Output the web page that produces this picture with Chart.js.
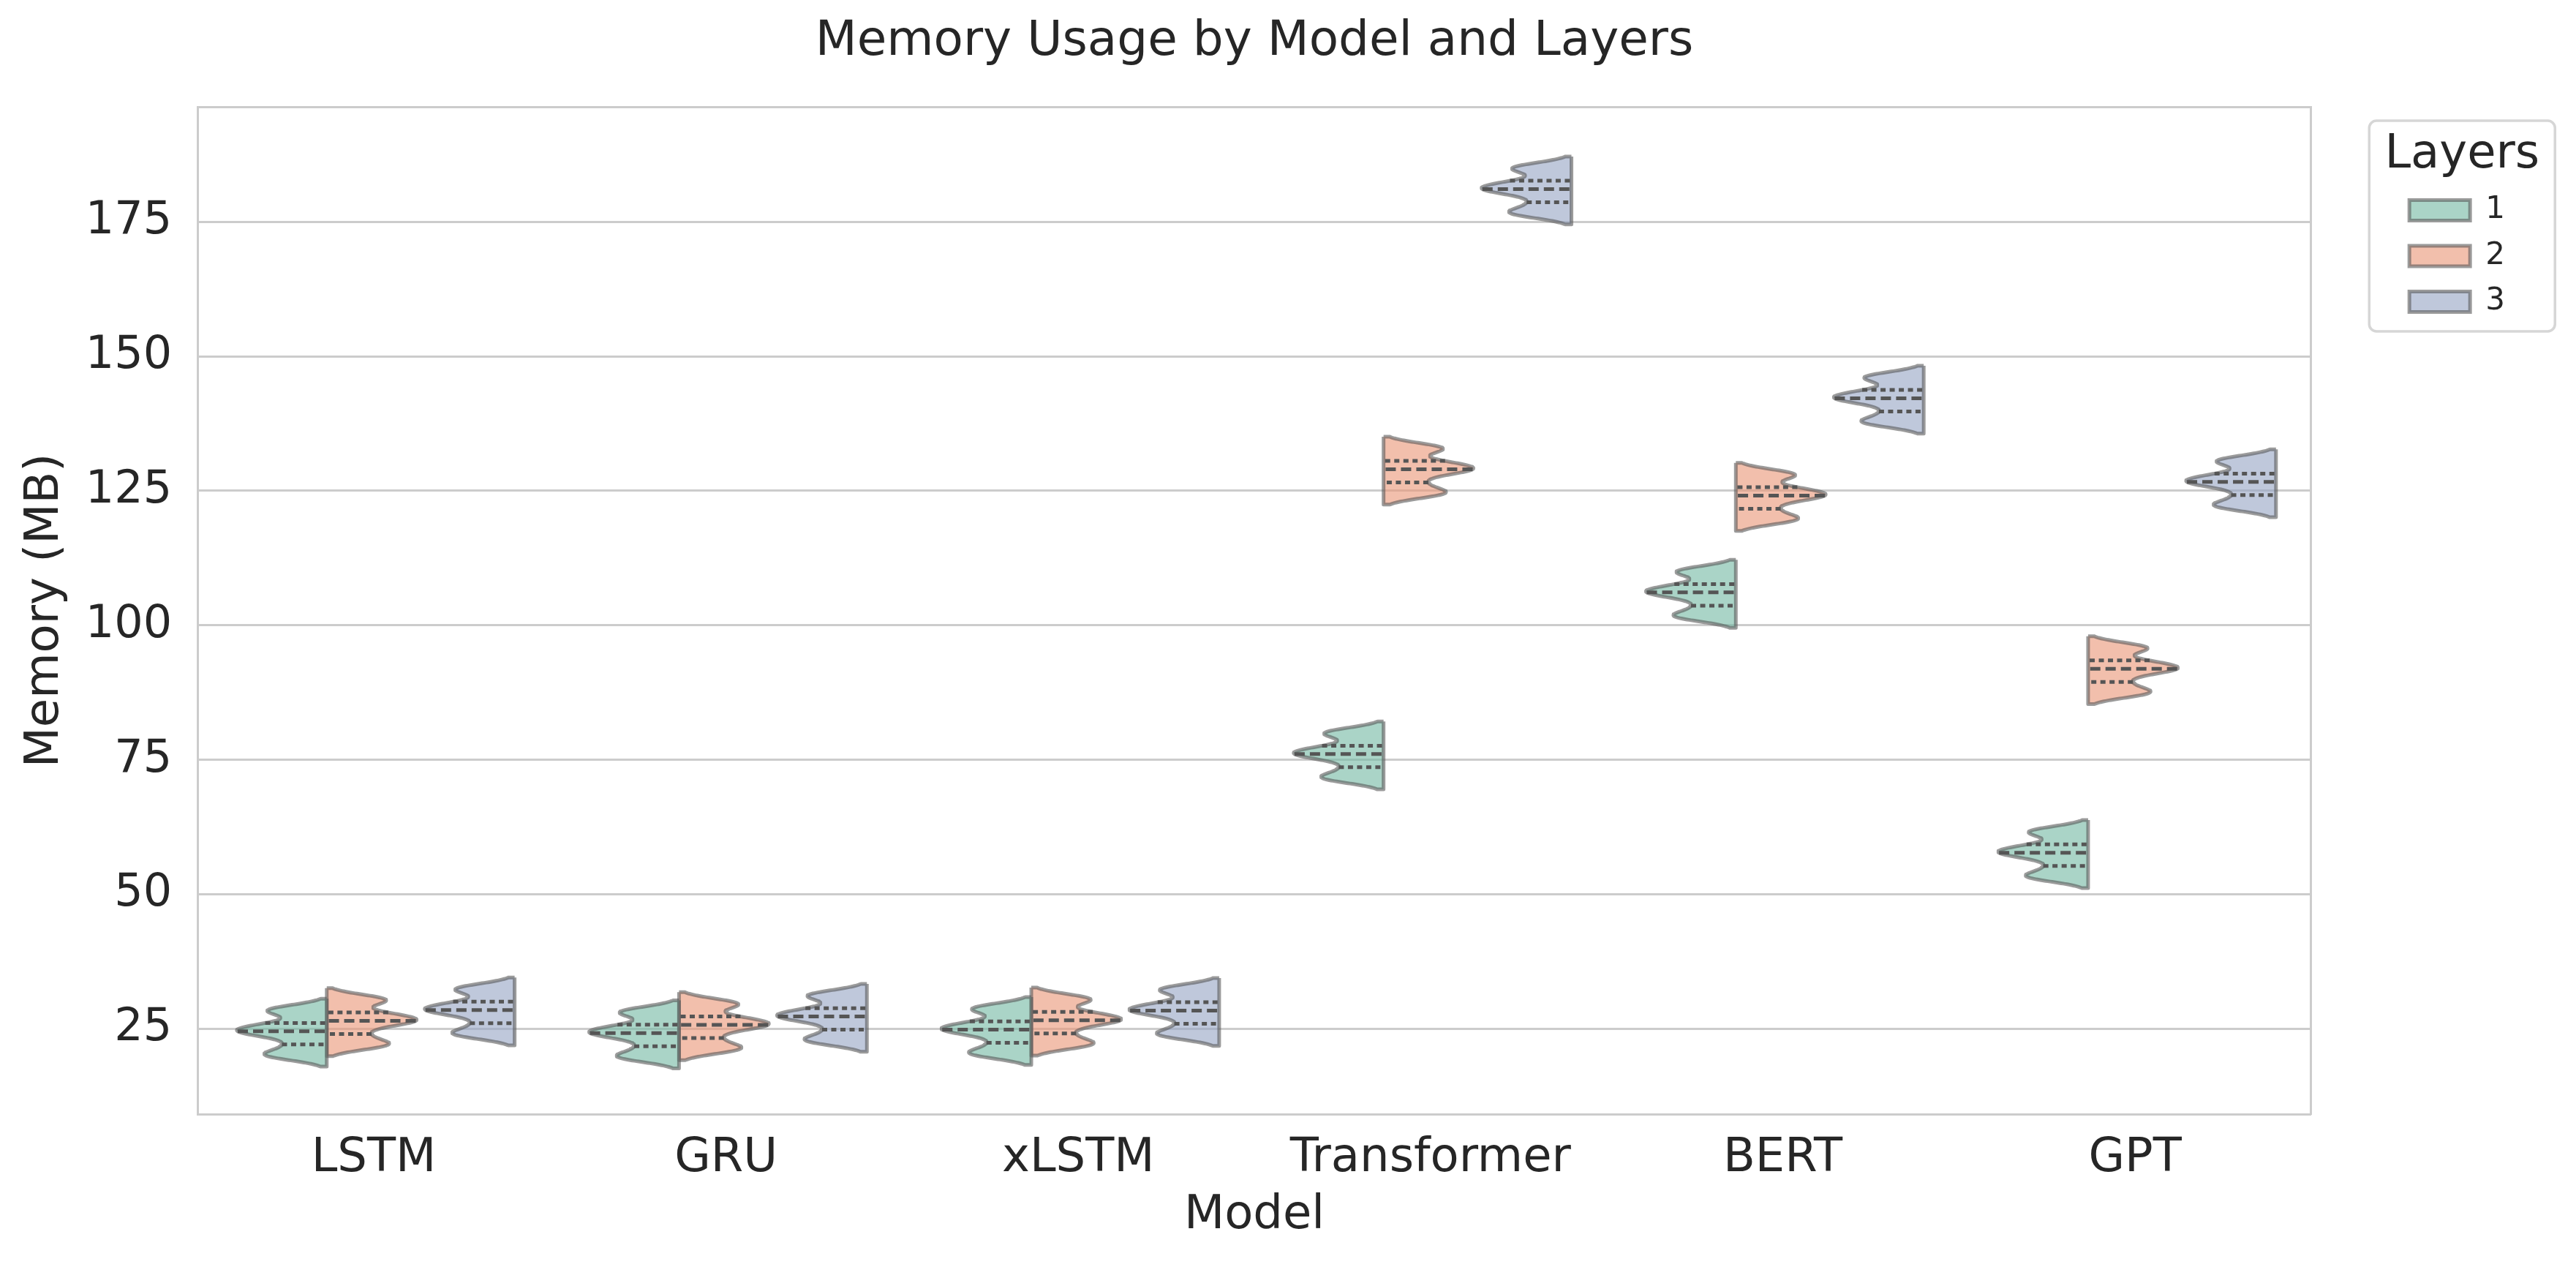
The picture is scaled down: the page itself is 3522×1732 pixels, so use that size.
<!DOCTYPE html>
<html>
<head>
<meta charset="utf-8">
<script src="https://cdn.jsdelivr.net/npm/chart.js@4.4.1/dist/chart.umd.min.js"></script>
<style>
  html, body { margin: 0; padding: 0; background: #ffffff; overflow: hidden; }
  #wrap { width: 3522px; height: 1732px; position: relative; background: #ffffff; }
</style>
</head>
<body>
<div id="wrap"><canvas id="chart"></canvas></div>
<script>
// ---------------- data ----------------
const models = ['LSTM', 'GRU', 'xLSTM', 'Transformer', 'BERT', 'GPT'];
const layers = ['1', '2', '3'];

// memory samples (MB), one row per model, for each number of layers
const layer1Samples = [
  [19.95, 20.20, 22.05, 23.90, 24.50, 25.00, 26.05, 28.25, 28.55],
  [19.63, 19.88, 21.73, 23.58, 24.18, 24.68, 25.73, 27.93, 28.23],
  [20.25, 20.50, 22.35, 24.20, 24.80, 25.30, 26.35, 28.55, 28.85],
  [71.50, 71.75, 73.60, 75.45, 76.05, 76.55, 77.60, 79.80, 80.10],
  [101.55, 101.80, 103.65, 105.50, 106.10, 106.60, 107.65, 109.85, 110.15],
  [53.15, 53.40, 55.25, 57.10, 57.70, 58.20, 59.25, 61.45, 61.75]
];
const layer2Samples = [
  [21.90, 22.15, 24.00, 25.85, 26.45, 26.95, 28.00, 30.20, 30.50],
  [21.15, 21.40, 23.25, 25.10, 25.70, 26.20, 27.25, 29.45, 29.75],
  [22.00, 22.25, 24.10, 25.95, 26.55, 27.05, 28.10, 30.30, 30.60],
  [124.45, 124.70, 126.55, 128.40, 129.00, 129.50, 130.55, 132.75, 133.05],
  [119.57, 119.82, 121.67, 123.52, 124.12, 124.62, 125.67, 127.87, 128.17],
  [87.35, 87.60, 89.45, 91.30, 91.90, 92.40, 93.45, 95.65, 95.95]
];
const layer3Samples = [
  [23.90, 24.15, 26.00, 27.85, 28.45, 28.95, 30.00, 32.20, 32.50],
  [22.70, 22.95, 24.80, 26.65, 27.25, 27.75, 28.80, 31.00, 31.30],
  [23.80, 24.05, 25.90, 27.75, 28.35, 28.85, 29.90, 32.10, 32.40],
  [176.55, 176.80, 178.65, 180.50, 181.10, 181.60, 182.65, 184.85, 185.15],
  [137.65, 137.90, 139.75, 141.60, 142.20, 142.70, 143.75, 145.95, 146.25],
  [122.10, 122.35, 124.20, 126.05, 126.65, 127.15, 128.20, 130.40, 130.70]
];
const yTicks = [25, 50, 75, 100, 125, 150, 175];
const samplesByLayer = [layer1Samples, layer2Samples, layer3Samples];
const legendTitle = 'Layers';

// ---------------- style ----------------
const FONT = "'DejaVu Sans', 'Liberation Sans', sans-serif";
const TEXT = '#262626';
const GRID = '#cccccc';
const fills = ['rgba(113,183,161,0.6)', 'rgba(233,149,117,0.6)', 'rgba(149,163,195,0.6)'];
const edge = 'rgba(89,89,89,0.6)';
const innerColor = '#555555';

// violin estimation settings (seaborn-like)
const BW_ADJUST = 0.5, CUT = 2, GRID_N = 200;
const DODGE_W = 0.8 / layers.length;
const HALF_MAX = 0.255;

Chart.defaults.font.family = FONT;
Chart.defaults.color = TEXT;

function kde(samples) {
  const n = samples.length;
  const mean = samples.reduce((a, b) => a + b, 0) / n;
  const sd = Math.sqrt(samples.reduce((a, b) => a + (b - mean) * (b - mean), 0) / (n - 1));
  const h = BW_ADJUST * Math.pow(n, -0.2) * sd;
  const dens = (y) => {
    let s = 0;
    for (const v of samples) { const z = (y - v) / h; s += Math.exp(-0.5 * z * z); }
    return s / (n * h * Math.sqrt(2 * Math.PI));
  };
  const lo = Math.min(...samples) - CUT * h;
  const hi = Math.max(...samples) + CUT * h;
  const ys = [], ds = [];
  for (let t = 0; t < GRID_N; t++) {
    const y = hi - (hi - lo) * t / (GRID_N - 1);
    ys.push(y); ds.push(dens(y));
  }
  return { ys, ds, dens, lo, hi };
}
function quantile(sorted, p) {
  const idx = (sorted.length - 1) * p;
  const a = Math.floor(idx), b = Math.ceil(idx);
  return sorted[a] + (sorted[b] - sorted[a]) * (idx - a);
}

const fits = [];
samplesByLayer.forEach((rows, j) => rows.forEach((s, i) => fits.push({ i, j, s, k: kde(s) })));
const globalMax = Math.max(...fits.map(f => Math.max(...f.k.ds)));
const wScale = HALF_MAX / globalMax;

const violinSets = [], innerSets = [];
fits.forEach(({ i, j, s, k }) => {
  const pos = i + (j - (layers.length - 1) / 2) * DODGE_W;
  const side = j % 2 === 0 ? -1 : 1;
  const flat = pos - side * DODGE_W / 2;
  const pts = [{ x: flat, y: k.hi }];
  k.ys.forEach((y, t) => pts.push({ x: flat + side * k.ds[t] * wScale, y }));
  pts.push({ x: flat, y: k.lo });
  pts.push({ x: flat, y: k.hi });
  violinSets.push({
    label: models[i] + ' / ' + layers[j],
    data: pts,
    showLine: true,
    fill: 'shape',
    backgroundColor: fills[j],
    borderColor: edge,
    borderWidth: 5,
    borderJoinStyle: 'round',
    pointRadius: 0,
    tension: 0,
    order: 2
  });
  const sorted = [...s].sort((a, b) => a - b);
  [0.25, 0.5, 0.75].forEach(p => {
    const q = quantile(sorted, p);
    innerSets.push({
      label: 'q',
      data: [{ x: flat + side * k.dens(q) * wScale, y: q }, { x: flat, y: q }],
      showLine: true,
      fill: false,
      borderColor: innerColor,
      borderWidth: 5,
      borderDash: p === 0.5 ? [14, 7] : [7, 5.5],
      borderCapStyle: 'butt',
      pointRadius: 0,
      order: 1
    });
  });
});

// frame and heading of the legend, placed from the legend's own box
const legendFrame = {
  id: 'legendFrame',
  beforeDraw(chart) {
    const lg = chart.legend;
    if (!lg) return;
    const c = chart.ctx;
    c.save();
    c.beginPath();
    if (c.roundRect) c.roundRect(lg.left - 34.4, lg.top + 19, 254, 288, 10);
    else c.rect(lg.left - 34.4, lg.top + 19, 254, 288);
    c.fillStyle = '#ffffff';
    c.fill();
    c.lineWidth = 3.5;
    c.strokeStyle = '#d6d6d6';
    c.stroke();
    c.restore();
  },
  afterDraw(chart) {
    const lg = chart.legend;
    if (!lg) return;
    const c = chart.ctx;
    c.save();
    c.font = "normal 64px " + FONT;
    c.fillStyle = TEXT;
    c.textAlign = 'center';
    c.textBaseline = 'middle';
    c.fillText(legendTitle, lg.left - 34.4 + 127, lg.top + 66);
    c.restore();
  }
};

new Chart(document.getElementById('chart'), {
  type: 'scatter',
  data: { datasets: [...innerSets, ...violinSets] },
  options: {
    responsive: true,
    maintainAspectRatio: false,
    animation: false,
    events: [],
    layout: { padding: { left: 24, right: 87.1, top: 0, bottom: 30.8 } },
    elements: { point: { radius: 0 } },
    plugins: {
      tooltip: { enabled: false },
      title: {
        display: true,
        text: 'Memory Usage by Model and Layers',
        fullSize: false,
        color: TEXT,
        font: { family: FONT, size: 66, weight: 'normal', lineHeight: 1.2 },
        padding: { top: 18.4, bottom: 48.4 }
      },
      legend: {
        display: true,
        position: 'right',
        align: 'start',
        fullSize: false,
        title: {
          display: true,
          text: '',
          font: { family: FONT, size: 64, weight: 'normal', lineHeight: 1 },
          padding: { top: 34, bottom: 2 }
        },
        labels: {
          font: { family: FONT, size: 42 },
          color: TEXT,
          boxWidth: 83,
          boxHeight: 28,
          padding: 20.5,
          generateLabels: () => layers.map((l, j) => ({
            text: l,
            fillStyle: fills[j],
            strokeStyle: edge,
            lineWidth: 5,
            fontColor: TEXT,
            hidden: false
          }))
        }
      }
    },
    scales: {
      x: {
        type: 'linear',
        position: 'bottom',
        min: -0.5,
        max: 5.5,
        afterBuildTicks: (axis) => { axis.ticks = models.map((m, i) => ({ value: i })); },
        ticks: {
          font: { family: FONT, size: 64 },
          color: TEXT,
          padding: 23,
          maxRotation: 0,
          autoSkip: false,
          callback: (v) => models[v] !== undefined ? models[v] : ''
        },
        grid: { display: false, drawTicks: false },
        border: { display: true, color: GRID, width: 3 },
        title: {
          display: true,
          text: 'Model',
          color: TEXT,
          font: { family: FONT, size: 64, lineHeight: 1.2 },
          padding: { top: -21.4, bottom: 0 }
        }
      },
      y: {
        type: 'linear',
        position: 'left',
        min: 9.1,
        max: 196.4,
        afterBuildTicks: (axis) => { axis.ticks = yTicks.map(v => ({ value: v })); },
        ticks: { font: { family: FONT, size: 62 }, color: TEXT, padding: 35 },
        grid: { color: GRID, lineWidth: 3, drawTicks: false },
        border: { display: true, color: GRID, width: 3 },
        title: {
          display: true,
          text: 'Memory (MB)',
          color: TEXT,
          font: { family: FONT, size: 64, lineHeight: 1.2 },
          padding: { top: 0, bottom: -19 }
        }
      },
      xTop: {
        type: 'linear',
        axis: 'x',
        position: 'top',
        display: true,
        min: -0.5,
        max: 5.5,
        ticks: { display: false },
        grid: { display: false, drawTicks: false },
        border: { display: true, color: GRID, width: 3 },
        afterFit: (s) => { s.height = 0; }
      },
      yRight: {
        type: 'linear',
        axis: 'y',
        position: 'right',
        display: true,
        min: 0,
        max: 1,
        ticks: { display: false },
        grid: { display: false, drawTicks: false },
        border: { display: true, color: GRID, width: 3 },
        afterFit: (s) => { s.width = 113.7; }
      }
    }
  },
  plugins: [legendFrame]
});
</script>
</body>
</html>
